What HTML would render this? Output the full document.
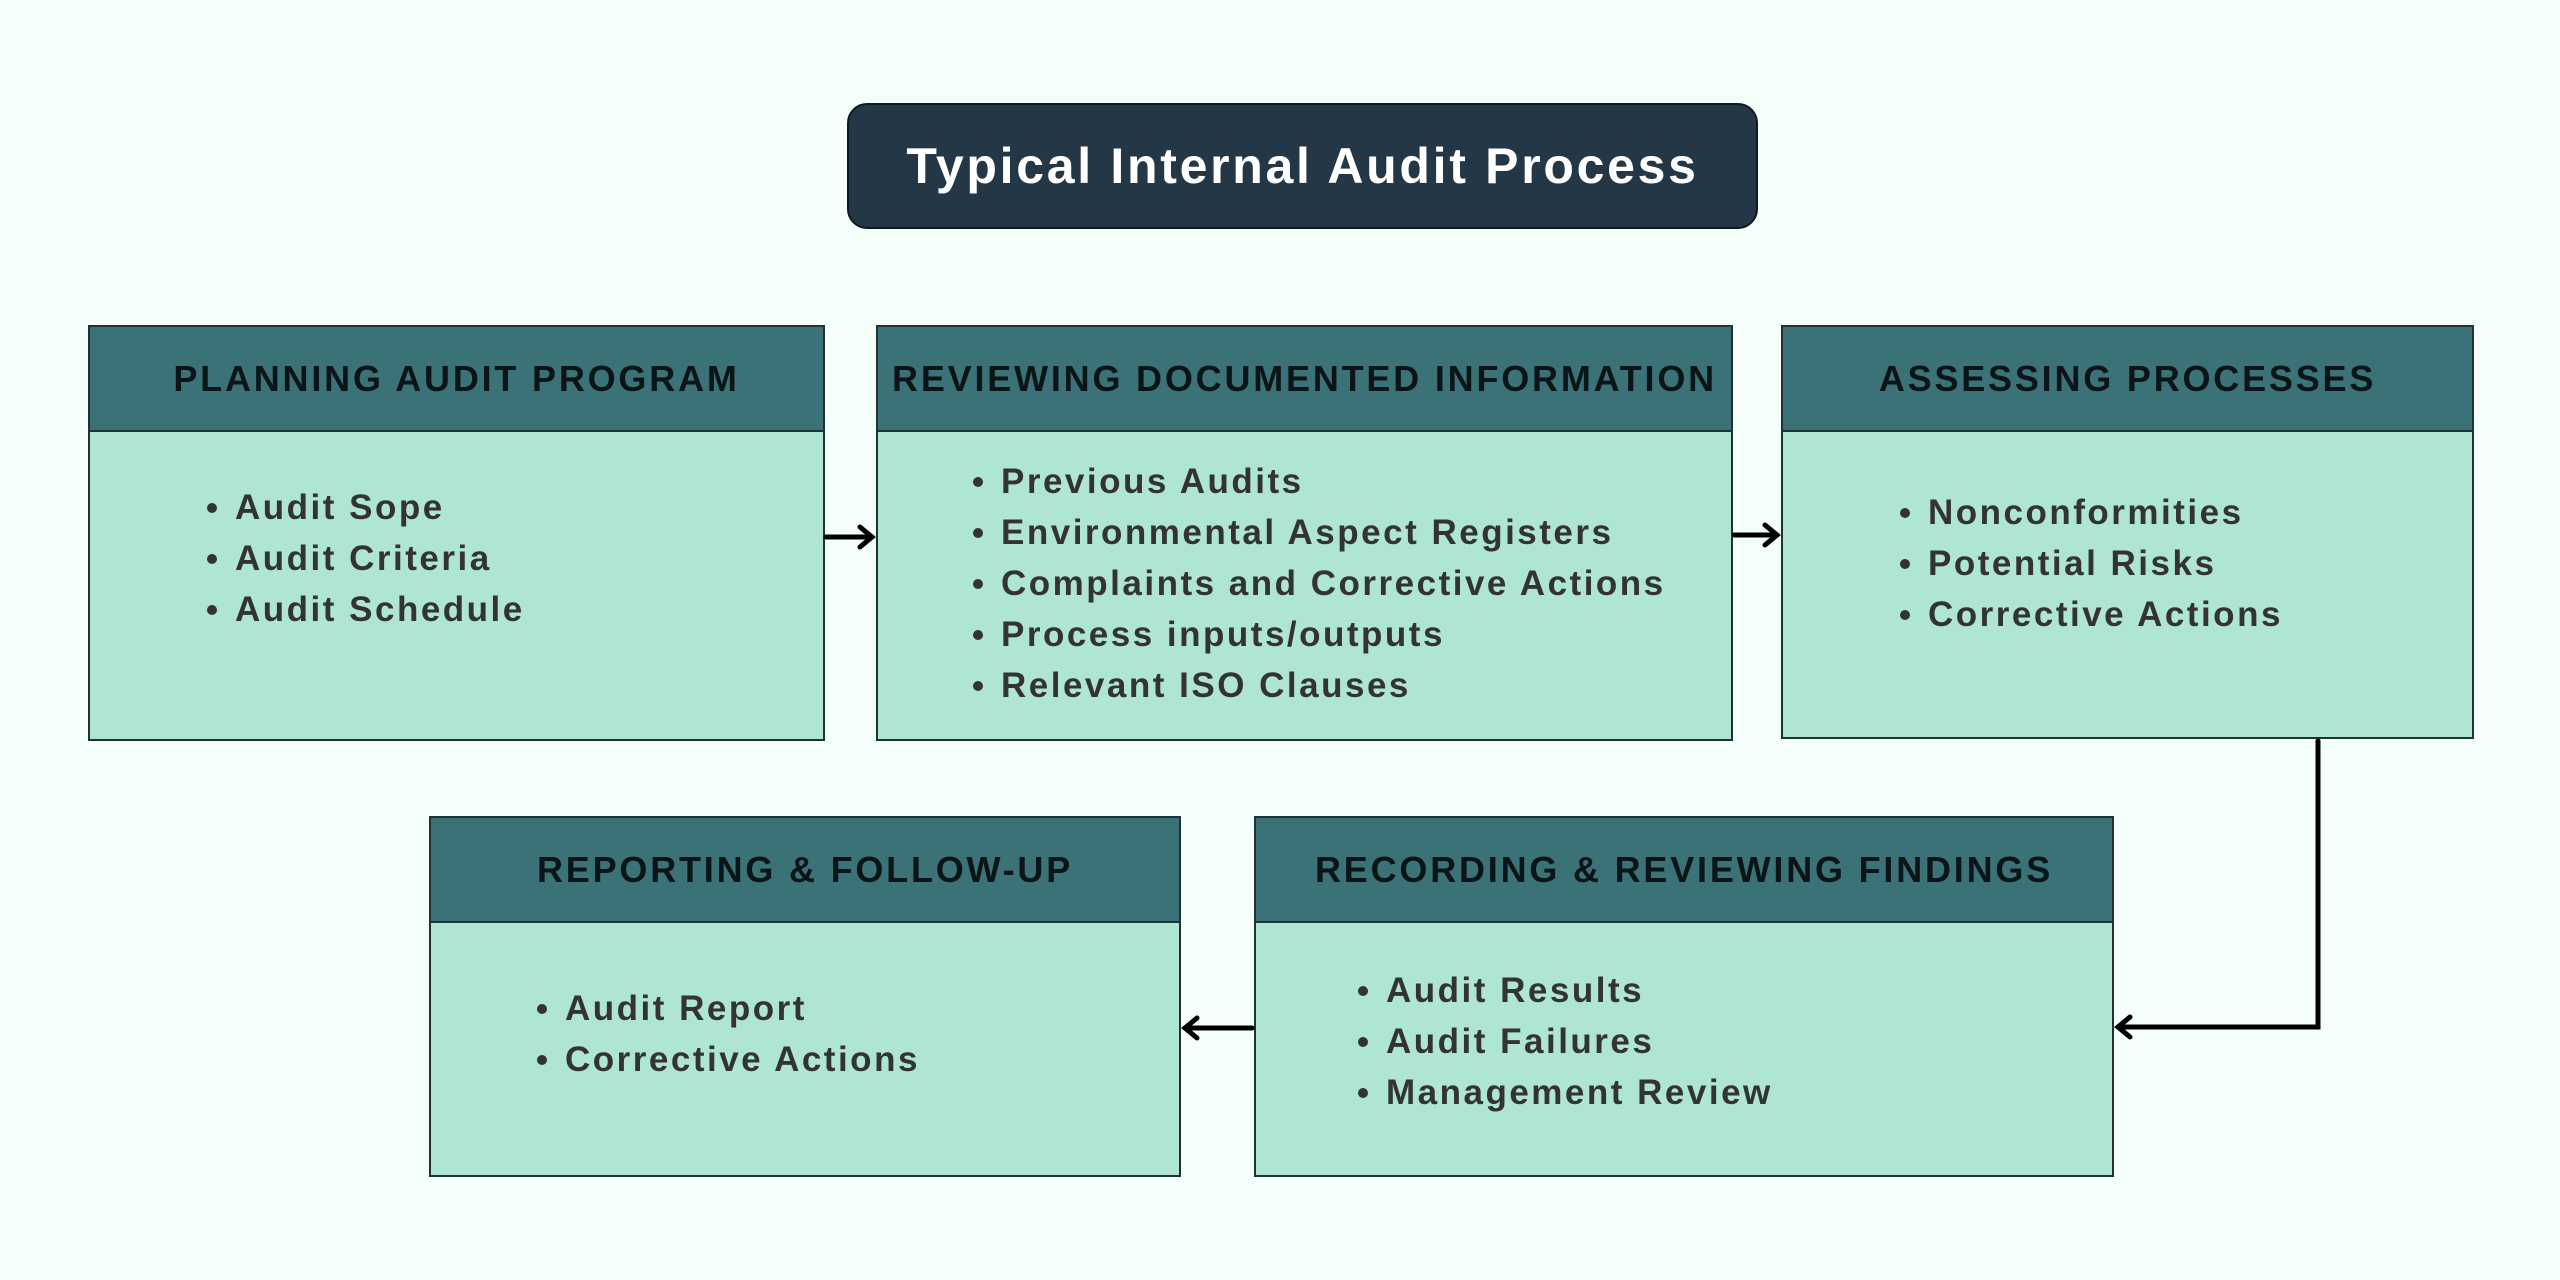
<!DOCTYPE html>
<html><head><meta charset="utf-8"><style>
html,body{margin:0;padding:0}
body{width:2560px;height:1280px;background:#f3fff8;position:relative;overflow:hidden;font-family:"Liberation Sans",sans-serif}
.t{position:absolute;left:847px;top:103px;width:911px;height:126px;background:#243746;border:2px solid #0d1a22;border-radius:20px;box-sizing:border-box;color:#fff;font-weight:bold;font-size:50px;letter-spacing:2.7px;display:flex;align-items:center;justify-content:center}
.b{position:absolute;border:2px solid #1f3236;box-sizing:border-box;background:#aee5d3}
.h{position:absolute;left:0;right:0;top:0;height:103px;background:#3a7277;border-bottom:2px solid #1f3236;display:flex;align-items:center;justify-content:center;font-weight:bold;font-size:36px;letter-spacing:2.8px;color:#0b1416}
ul{position:absolute;margin:0;padding:0;list-style:none;font-weight:bold;font-size:35px;letter-spacing:2.5px;color:#333;line-height:51px}
li{position:relative;padding-left:28px;white-space:nowrap}
li:before{content:"";position:absolute;left:0;top:21px;width:10px;height:10px;border-radius:50%;background:#333}
svg{position:absolute;left:0;top:0}
</style></head><body>
<div class="t">Typical Internal Audit Process</div>

<div class="b" style="left:88px;top:325px;width:737px;height:416px"><div class="h">PLANNING AUDIT PROGRAM</div>
<ul style="left:117px;top:155px"><li>Audit Sope</li><li>Audit Criteria</li><li>Audit Schedule</li></ul></div>

<div class="b" style="left:876px;top:325px;width:857px;height:416px"><div class="h">REVIEWING DOCUMENTED INFORMATION</div>
<ul style="left:95px;top:129px"><li>Previous Audits</li><li>Environmental Aspect Registers</li><li>Complaints and Corrective Actions</li><li>Process inputs/outputs</li><li>Relevant ISO Clauses</li></ul></div>

<div class="b" style="left:1781px;top:325px;width:693px;height:414px"><div class="h">ASSESSING PROCESSES</div>
<ul style="left:117px;top:160px"><li>Nonconformities</li><li>Potential Risks</li><li>Corrective Actions</li></ul></div>

<div class="b" style="left:429px;top:816px;width:752px;height:361px"><div class="h">REPORTING &amp; FOLLOW-UP</div>
<ul style="left:106px;top:165px"><li>Audit Report</li><li>Corrective Actions</li></ul></div>

<div class="b" style="left:1254px;top:816px;width:860px;height:361px"><div class="h">RECORDING &amp; REVIEWING FINDINGS</div>
<ul style="left:102px;top:147px"><li>Audit Results</li><li>Audit Failures</li><li>Management Review</li></ul></div>

<svg width="2560" height="1280">
<g stroke="#000" stroke-width="5" fill="none" stroke-linecap="round" stroke-linejoin="miter">
<line x1="826" y1="537" x2="872" y2="537"/><polyline points="860,527 872,537 860,547"/>
<line x1="1734" y1="535" x2="1777" y2="535"/><polyline points="1765,525 1777,535 1765,545"/>
<polyline points="2318,741 2318,1027 2118,1027"/><polyline points="2130,1017 2118,1027 2130,1037"/>
<line x1="1252" y1="1028" x2="1185" y2="1028"/><polyline points="1197,1018 1185,1028 1197,1038"/>
</g></svg>
</body></html>
